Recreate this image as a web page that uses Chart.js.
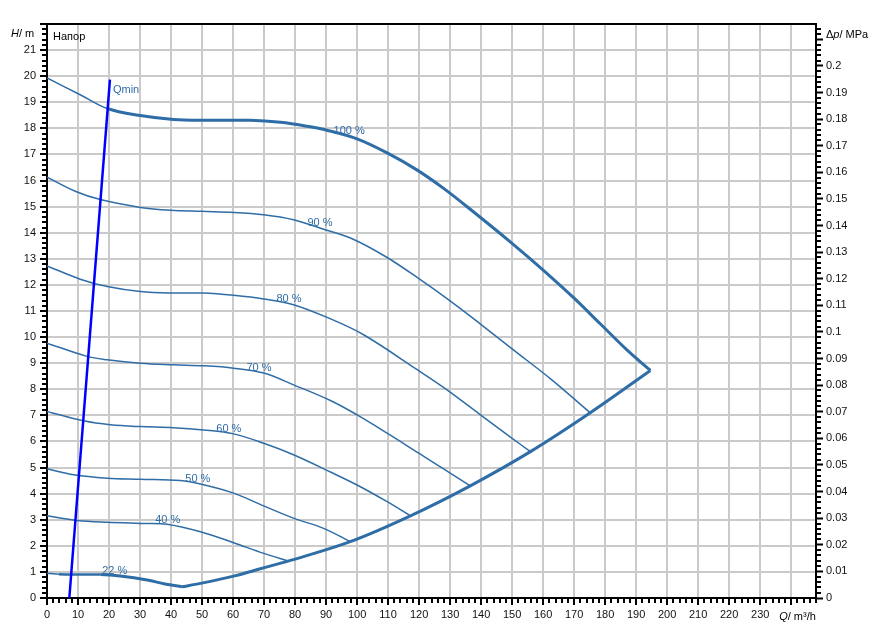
<!DOCTYPE html>
<html>
<head>
<meta charset="utf-8">
<script src="https://cdn.jsdelivr.net/npm/chart.js@4.4.0/dist/chart.umd.min.js"></script>
<style>
    html, body { margin: 0; padding: 0; background: #fff; }
    #wrap { width: 879px; height: 639px; position: relative; }
</style>
</head>
<body>
<div id="wrap"><canvas id="pumpChart"></canvas></div>
<script>
// pump curves: flow Q (m3/h) against head H (m)
var q100 = [0, 10.7, 19.4, 30.1, 40.8, 51.6, 65.6, 75.3, 83.9, 90.3, 100, 109.7, 119.4, 127.9, 136.5, 149.4, 160.2, 169.9, 178.5, 187.1, 194.6];
var h100 = [19.93, 19.29, 18.76, 18.49, 18.34, 18.31, 18.31, 18.23, 18.08, 17.93, 17.6, 17.06, 16.4, 15.7, 14.9, 13.65, 12.55, 11.5, 10.5, 9.5, 8.72];

var q90 = [0, 9.1, 17.2, 30.1, 39.8, 50, 60.2, 69.9, 79.5, 88, 98.4, 109.7, 120.4, 130.1, 139.8, 150.5, 162.4, 175.2];
var h90 = [16.13, 15.59, 15.27, 14.97, 14.86, 14.82, 14.78, 14.69, 14.5, 14.18, 13.77, 13.05, 12.2, 11.38, 10.5, 9.5, 8.4, 7.1];

var q80 = [0, 10.7, 19.4, 30.1, 40.8, 50.5, 60.2, 69.9, 79.5, 91.4, 102.1, 119.4, 129, 139.8, 150, 155.9];
var h80 = [12.73, 12.22, 11.94, 11.75, 11.69, 11.69, 11.6, 11.46, 11.24, 10.7, 10.09, 8.75, 7.98, 7.02, 6.12, 5.61];

var q70 = [0, 12.9, 19.4, 30.1, 40.8, 50.5, 60.2, 69.9, 79.5, 91.4, 100, 109.7, 119.9, 127.9, 136.5];
var h70 = [9.77, 9.26, 9.13, 9.0, 8.94, 8.9, 8.81, 8.62, 8.17, 7.57, 7.02, 6.32, 5.55, 4.95, 4.3];

var q60 = [0, 11.8, 20.4, 30.1, 40.8, 50.5, 60.2, 69.9, 79.5, 91.4, 100, 109.7, 117.2];
var h60 = [7.15, 6.79, 6.64, 6.57, 6.53, 6.44, 6.29, 5.93, 5.49, 4.83, 4.33, 3.69, 3.15];

var q50 = [0, 8.6, 19.4, 30.1, 43, 49.5, 60.2, 69.9, 79.5, 89.2, 97.8];
var h50 = [4.95, 4.72, 4.59, 4.55, 4.5, 4.37, 4.02, 3.53, 3.06, 2.67, 2.16];

var q40 = [0, 9.7, 19.4, 30.1, 38.7, 49.5, 60.2, 69.9, 77.9];
var h40 = [3.15, 2.97, 2.9, 2.86, 2.83, 2.54, 2.12, 1.71, 1.42];

var q22 = [0, 3.8, 10, 17.2, 23.6, 32.3, 38, 43.5];
var h22 = [0.95, 0.91, 0.9, 0.9, 0.84, 0.69, 0.54, 0.43];

// max flow envelope
var qEnv = [43.5, 49.5, 60.2, 68.8, 78.5, 97.8, 117.2, 136.5, 155.9, 175.2, 194.6];
var hEnv = [0.43, 0.56, 0.84, 1.12, 1.44, 2.16, 3.15, 4.3, 5.61, 7.1, 8.72];

// Qmin line
var qMin = [7.2, 20.3];
var hMin = [0, 19.87];

// curve labels and where along Q they sit
var curveNames = ['100 %', '90 %', '80 %', '70 %', '60 %', '50 %', '40 %', '22 %'];
var curveLabelQ = [92.4, 84, 74, 64.3, 54.6, 44.6, 34.9, 17.8];

var blue = '#2f6da6';
var font = '"Liberation Sans", Arial, sans-serif';

function points(qs, hs) {
    return qs.map(function (q, i) { return { x: q, y: hs[i] }; });
}

function curveAt(qs, hs, q) {
    for (var i = 1; i < qs.length; i++) {
        if (q <= qs[i]) {
            var t = (q - qs[i - 1]) / (qs[i] - qs[i - 1]);
            return hs[i - 1] + t * (hs[i] - hs[i - 1]);
        }
    }
    return hs[hs.length - 1];
}

function curve(qs, hs, width) {
    return {
        data: points(qs, hs),
        borderColor: blue,
        borderWidth: width,
        pointRadius: 0,
        fill: false,
        tension: 0.35,
        yAxisID: 'y'
    };
}

var curves = [[q100, h100], [q90, h90], [q80, h80], [q70, h70], [q60, h60], [q50, h50], [q40, h40], [q22, h22]];

var c100 = curve(q100, h100, 1.5);
c100.segment = { borderWidth: function (c) { return c.p0.parsed.x >= 19 ? 3 : 1.5; } };
var c22 = curve(q22, h22, 1.5);
c22.segment = { borderWidth: function (c) { return c.p0.parsed.x >= 17 ? 3 : (c.p0.parsed.x >= 3.8 ? 2.5 : 1.5); } };

var extras = {
    id: 'extras',
    afterDraw: function (chart) {
        var ctx = chart.ctx, a = chart.chartArea;
        var x = chart.scales.x, y = chart.scales.y, y2 = chart.scales.y2;
        var i, p;
        ctx.save();

        // frame top
        ctx.strokeStyle = '#000';
        ctx.lineWidth = 2;
        ctx.beginPath();
        ctx.moveTo(a.left - 1, a.top);
        ctx.lineTo(a.right + 1, a.top);
        ctx.stroke();

        // minor ticks
        ctx.lineWidth = 2;
        ctx.beginPath();
        for (i = 1; i * 2 <= x.max; i++) {
            if (i % 5 === 0) continue;
            p = Math.round(x.getPixelForValue(i * 2));
            ctx.moveTo(p, a.bottom);
            ctx.lineTo(p, a.bottom + 5);
        }
        for (i = 1; i * 0.2 < y.max; i++) {
            if (i % 5 === 0) continue;
            p = Math.round(y.getPixelForValue(i * 0.2));
            ctx.moveTo(a.left, p);
            ctx.lineTo(a.left - 5, p);
        }
        for (i = 1; i * 0.002 < y2.max; i++) {
            if (i % 5 === 0) continue;
            p = Math.round(y2.getPixelForValue(i * 0.002));
            ctx.moveTo(a.right, p);
            ctx.lineTo(a.right + 5, p);
        }
        ctx.stroke();

        // curve labels
        ctx.font = '11px ' + font;
        ctx.fillStyle = blue;
        ctx.textAlign = 'left';
        ctx.textBaseline = 'middle';
        for (i = 0; i < curves.length; i++) {
            var lq = curveLabelQ[i];
            var lh = curveAt(curves[i][0], curves[i][1], lq + 3);
            ctx.fillText(curveNames[i], x.getPixelForValue(lq), y.getPixelForValue(lh) - 4);
        }
        ctx.fillText('Qmin', x.getPixelForValue(qMin[1]) + 3, y.getPixelForValue(hMin[1]) + 10);

        // axis titles
        ctx.fillStyle = '#000';
        ctx.fillText('Напор', a.left + 6, a.top + 13);

        function title(parts, px, py) {
            var cx = px;
            parts.forEach(function (part) {
                ctx.font = (part[1] ? 'italic ' : '') + '11px ' + font;
                ctx.fillText(part[0], cx, py);
                cx += ctx.measureText(part[0]).width;
            });
        }
        title([['H', true], ['/ m', false]], a.left - 36, a.top + 10);
        title([['\u0394', false], ['p', true], ['/ MPa', false]], a.right + 10, a.top + 11);
        title([['Q', true], ['/ m\u00b3/h', false]], x.getPixelForValue(240) - 12, a.bottom + 19);

        ctx.restore();
    }
};

var tickFont = { family: font, size: 11 };

var chart = new Chart(document.getElementById('pumpChart').getContext('2d'), {
    type: 'line',
    data: {
        datasets: [
            {
                data: points(qMin, hMin),
                borderColor: '#0000ff',
                borderWidth: 2.5,
                pointRadius: 0,
                tension: 0,
                yAxisID: 'y'
            },
            c100,
            curve(q90, h90, 1.5),
            curve(q80, h80, 1.5),
            curve(q70, h70, 1.5),
            curve(q60, h60, 1.5),
            curve(q50, h50, 1.5),
            curve(q40, h40, 1.5),
            c22,
            curve(qEnv, hEnv, 3)
        ]
    },
    options: {
        responsive: true,
        maintainAspectRatio: false,
        animation: false,
        devicePixelRatio: 1,
        layout: { padding: { top: 24, left: 0, right: 0, bottom: 0 } },
        plugins: {
            legend: { display: false },
            tooltip: { enabled: false }
        },
        scales: {
            x: {
                type: 'linear',
                min: 0,
                max: 248,
                afterFit: function (s) { s.height = 41; },
                border: { color: '#000', width: 2 },
                grid: { color: '#cacaca', lineWidth: 2, tickColor: '#000', tickLength: 7, tickWidth: 2 },
                ticks: {
                    stepSize: 10,
                    includeBounds: false,
                    autoSkip: false,
                    maxRotation: 0,
                    padding: 3,
                    color: '#111',
                    font: tickFont,
                    callback: function (v) { return v <= 230 ? v : ''; }
                }
            },
            y: {
                position: 'left',
                min: 0,
                max: 22,
                afterFit: function (s) { s.width = 47; },
                border: { color: '#000', width: 2 },
                grid: { color: '#cacaca', lineWidth: 2, tickColor: '#000', tickLength: 7, tickWidth: 2 },
                ticks: {
                    stepSize: 1,
                    includeBounds: false,
                    autoSkip: false,
                    padding: 4,
                    color: '#111',
                    font: tickFont,
                    callback: function (v) { return v < 22 ? v : ''; }
                }
            },
            y2: {
                position: 'right',
                min: 0,
                max: 0.21575,
                afterFit: function (s) { s.width = 63; },
                border: { color: '#000', width: 2 },
                grid: { drawOnChartArea: false, tickColor: '#000', tickLength: 7, tickWidth: 2 },
                ticks: {
                    stepSize: 0.01,
                    includeBounds: false,
                    autoSkip: false,
                    padding: 3,
                    color: '#111',
                    font: tickFont,
                    callback: function (v) {
                        var r = Math.round(v * 100) / 100;
                        return r < 0.205 ? String(r) : '';
                    }
                }
            }
        }
    },
    plugins: [extras]
});
</script>
</body>
</html>
